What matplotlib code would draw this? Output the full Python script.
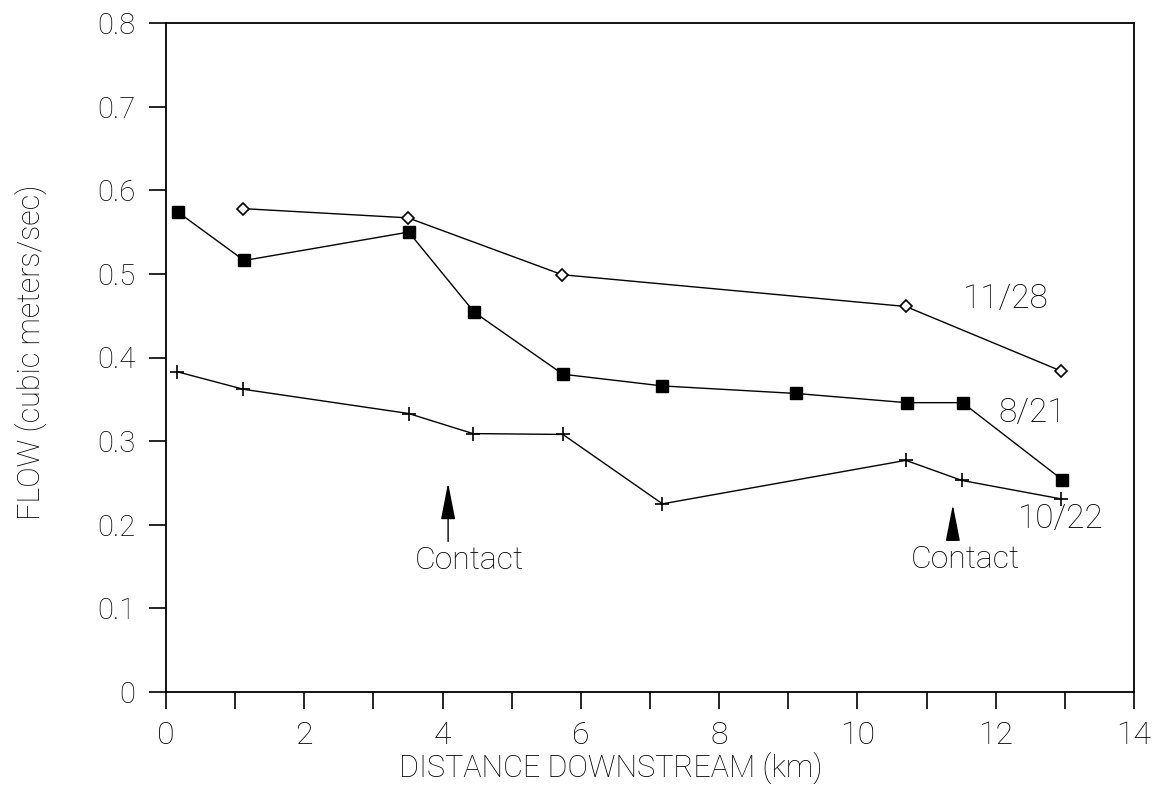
import matplotlib
matplotlib.use("Agg")
import matplotlib.pyplot as plt

# Data
x_821 = [0.17, 1.13, 3.51, 4.46, 5.74, 7.18, 9.11, 10.71, 11.52, 12.96]
y_821 = [0.574, 0.516, 0.550, 0.454, 0.380, 0.366, 0.357, 0.346, 0.346, 0.254]

x_1128 = [1.12, 3.50, 5.73, 10.70, 12.94]
y_1128 = [0.578, 0.567, 0.499, 0.461, 0.384]

x_1022 = [0.16, 1.12, 3.51, 4.44, 5.74, 7.18, 10.70, 11.51, 12.94]
y_1022 = [0.383, 0.362, 0.333, 0.309, 0.308, 0.225, 0.277, 0.253, 0.231]

xticks = [0, 2, 4, 6, 8, 10, 12, 14]
yticks = [0, 0.1, 0.2, 0.3, 0.4, 0.5, 0.6, 0.7, 0.8]
ytick_labels = ["0", "0.1", "0.2", "0.3", "0.4", "0.5", "0.6", "0.7", "0.8"]

series_labels = ["11/28", "8/21", "10/22"]
label_pos = [(12.14, 0.470), (12.53, 0.334), (12.94, 0.207)]

contact_x = [4.08, 11.38]
contact_tip = [0.250, 0.224]
contact_tail = [0.180, 0.184]
contact_text = [(4.38, 0.157), (11.56, 0.159)]

plt.rcParams['font.family'] = ['Roboto', 'DejaVu Sans']
plt.rcParams['font.weight'] = 'light'

fig = plt.figure(figsize=(11.55, 7.86), dpi=100)
ax = fig.add_axes([166/1155, 1-692/786, (1134-166)/1155, (692-23)/786])

ax.plot(x_1128, y_1128, color='black', lw=1.0, marker='D', ms=6,
        mfc='white', mec='black', mew=1.2)
ax.plot(x_821, y_821, color='black', lw=1.0, marker='s', ms=9,
        mfc='black', mec='black')
ax.plot(x_1022, y_1022, color='black', lw=1.0, marker='+', ms=10, mew=1.2)

for txt, (tx, ty) in zip(series_labels, label_pos):
    ax.text(tx, ty, txt, ha='center', va='center', fontsize=24, fontweight='light',
            color='black')

for cx, tip, tail, (tx, ty) in zip(contact_x, contact_tip, contact_tail, contact_text):
    ax.annotate('', xy=(cx, tip), xytext=(cx, tail),
                arrowprops=dict(arrowstyle='-|>,head_width=0.45,head_length=2.3',
                                color='black', lw=1.0, shrinkA=0, shrinkB=0))
    ax.text(tx, ty, 'Contact', ha='center', va='center', fontsize=23,
            fontweight='light', color='black')

ax.set_xlim(0, 14)
ax.set_ylim(0, 0.8)
ax.set_xticks(xticks)
ax.set_xticklabels([str(t) for t in xticks])
ax.set_xticks(range(0, 15), minor=True)
ax.set_yticks(yticks)
ax.set_yticklabels(ytick_labels)
ax.tick_params(axis='both', which='both', direction='out', length=12, width=1.2)
ax.tick_params(axis='x', which='major', labelsize=23, pad=9)
ax.tick_params(axis='y', which='major', labelsize=21, pad=10)
for sp in ax.spines.values():
    sp.set_linewidth(1.3)

ax.set_xlabel('DISTANCE DOWNSTREAM (km)', fontsize=22, fontweight='light')
ax.set_ylabel('FLOW (cubic meters/sec)', fontsize=22, fontweight='light')
ax.xaxis.set_label_coords(0.459, -0.090)
ax.yaxis.set_label_coords(-0.123, 0.508)

fig.savefig('out.png', dpi=100)
